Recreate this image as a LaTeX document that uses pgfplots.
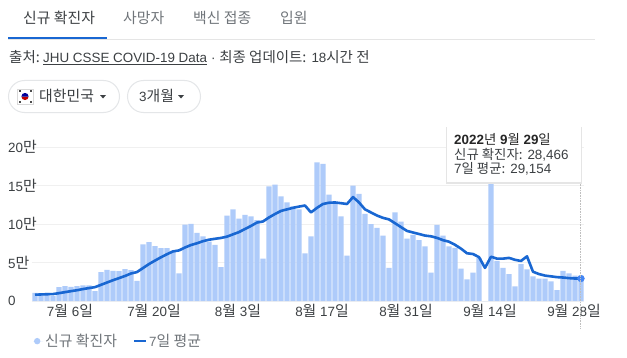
\documentclass[border=0pt]{standalone}
\usepackage{fontspec}
\usepackage{pgfplots}
\pgfplotsset{compat=1.18}
\setmainfont{Liberation Sans}
\newfontfamily\kr[Scale=1.11]{Noto Sans CJK KR}
\newfontfamily\krs[Scale=1.08]{Noto Sans CJK KR}
\newfontfamily\krt[Scale=1.0]{Noto Sans CJK KR}
\definecolor{barc}{HTML}{AECBFA}
\definecolor{linec}{HTML}{1967D2}
\definecolor{dotc}{HTML}{4285F4}
\definecolor{txt}{HTML}{3C4043}
\definecolor{gr}{HTML}{70757A}
\definecolor{chip}{HTML}{E4E6E8}
\newcommand{\fs}{\fontsize{13.4}{15}\selectfont}
\begin{document}
\begin{tikzpicture}
\fill[white] (0,0) rectangle (627pt,357pt);
\begin{axis}[
  at={(32pt,56pt)}, anchor=south west,
  scale only axis, width=552pt, height=154pt,
  xmin=-0.5, xmax=91.5, ymin=0, ymax=200,
  clip=false,
  axis line style={draw=none},
  major tick length=0pt,
  ymajorgrids, grid style={color=black!6, line width=0.7pt},
  ytick={0,50,100,150,200},
  yticklabels={0,5{\kr 만},10{\kr 만},15{\kr 만},20{\kr 만}},
  every y tick label/.append style={anchor=west, xshift=-24pt, font=\fs, text=txt, inner sep=0pt},
  xtick={5.83,19.83,33.83,47.83,61.83,75.83,89.83},
  xticklabels={7{\kr 월} 6{\kr 일},7{\kr 월} 20{\kr 일},8{\kr 월} 3{\kr 일},8{\kr 월} 17{\kr 일},8{\kr 월} 31{\kr 일},9{\kr 월} 14{\kr 일},9{\kr 월} 28{\kr 일}},
  every x tick label/.append style={font=\fs, text=txt, inner sep=0pt, yshift=-3pt},
  legend style={at={(1pt,-31pt)}, anchor=north west, draw=none, fill=none, font=\fs, text=gr, legend columns=2, /tikz/every even column/.append style={column sep=14pt}, inner sep=0pt},
]
\addplot[ybar, bar width=5.3pt, draw=none, fill=barc, legend image code/.code={\path (0,0) -- (10pt,0); \fill[barc] (4pt,0) circle (3.2pt);}] coordinates {
(0,10.7)(1,10.1)(2,10.4)(3,6.3)(4,18.1)(5,19.4)(6,18.5)(7,19.3)(8,20.3)(9,20.4)
(10,12.7)(11,37.4)(12,40.3)(13,39.2)(14,38.9)(15,41.3)(16,40.0)(17,26.3)(18,73.6)(19,76.4)
(20,71.2)(21,68.6)(22,68.6)(23,65.4)(24,35.9)(25,99.3)(26,100.3)(27,88.4)(28,84)(29,77)
(30,73)(31,44)(32,111)(33,119)(34,107)(35,112)(36,110)(37,105)(38,55)(39,149)
(40,151)(41,136)(42,128)(43,123)(44,119)(45,62)(46,84)(47,180)(48,178)(49,138)
(50,128)(51,110)(52,59)(53,150)(54,139)(55,113)(56,100)(57,95)(58,85)(59,43)
(60,115)(61,103)(62,81)(63,86)(64,79)(65,71)(66,37)(67,99)(68,85)(69,71)
(70,69)(71,42)(72,28)(73,37)(74,56)(75,0)(76,170)(77,52)(78,43)(79,35)
(80,19)(81,48)(82,41)(83,32)(84,29)(85,29)(86,25.5)(87,14)(88,39)(89,36)
(90,33)(91,30)};
\addlegendentry{\kr 신규 확진자}
\addplot[linec, line width=2.6pt, line join=round, legend image code/.code={\draw[linec, line width=2.2pt] (0,0) -- (12pt,0);}] coordinates {
(0,8.2)(1,8.5)(2,8.8)(3,9.0)(4,10.2)(5,11.5)(6,12.8)(7,14)(8,15.5)(9,16.8)
(10,18)(11,21)(12,24)(13,27)(14,29.7)(15,32.5)(16,35.7)(17,37.6)(18,42.8)(19,48)
(20,52.5)(21,56.8)(22,60.8)(23,64.4)(24,65.7)(25,69.5)(26,72.7)(27,75)(28,77.7)(29,79.6)
(30,80.8)(31,81.9)(32,83.6)(33,86.6)(34,89.5)(35,93.5)(36,97.5)(37,101.9)(38,103.3)(39,108.5)
(40,113)(41,117)(42,119)(43,121)(44,122.6)(45,124)(46,115)(47,121)(48,126)(49,127.6)
(50,128)(51,127)(52,126)(53,135)(54,128)(55,119)(56,115)(57,111)(58,108)(59,106)
(60,101)(61,96)(62,91)(63,89)(64,87)(65,85)(66,84)(67,82)(68,79)(69,77)
(70,73)(71,68)(72,62)(73,61)(74,57)(75,43)(76,57.5)(77,55)(78,55)(79,56)
(80,53.5)(81,52)(82,58)(83,38)(84,35)(85,33)(86,32)(87,31)(88,30.5)(89,29.7)
(90,29.2)(91,29.2)};
\addlegendentry{{7\kr 일 평균}}
\addplot[forget plot, only marks, color=dotc, mark=*, mark size=3.4pt, mark options={fill=dotc, draw=dotc}] coordinates {(91,29.2)};
\end{axis}
\begin{scope}[x=1pt,y=-1pt,yshift=357pt]
\draw[black!25, densely dotted, line width=0.6pt] (580,182) -- (580,328);
% tabs
\draw[black!10, line width=0.8pt] (8,39) -- (595,39);
\fill[linec] (8,37) rectangle (107,39.5);
\tikzset{t/.style={inner sep=0pt, anchor=base west, font=\fs},
  tt/.style={t, text height=9.5pt, text depth=2pt}}
\node[t,text=txt] at (23,23.5) {\kr 신규 확진자};
\node[t,text=gr] at (123,23.5) {\kr 사망자};
\node[t,text=gr] at (193,23.5) {\kr 백신 접종};
\node[t,text=gr] at (280,23.5) {\kr 입원};
% source
\node[t,text=txt] at (9,62.5) {\krs 출처:};
\node[t,text=txt] at (43,62.5) {JHU CSSE COVID-19 Data};
\draw[txt, line width=0.6pt] (43,64) -- (207,64);
\node[t,text=txt] at (211,62.5) {· {\krs 최종 업데이트:} 18{\krs 시간 전}};
% chips
\draw[chip, line width=1pt, rounded corners=16pt] (8.5,80.5) rectangle (119.5,112.5);
\draw[chip, line width=1pt, rounded corners=16pt] (127.5,80.5) rectangle (200.5,112.5);
\fill[white] (17,89) rectangle (33,104);
\draw[black!15, line width=0.4pt] (17,89) rectangle (33,104);
\fill[red!75!black] (25,96.5) ++(-3.6,0) arc[start angle=180, end angle=360, x radius=3.6, y radius=-3.6];
\fill[blue!60!black] (25,96.5) ++(-3.6,0) arc[start angle=180, end angle=360, x radius=3.6, y radius=3.6];
\foreach \a/\b in {19.5/91.5,30.5/91.5,19.5/101.5,30.5/101.5}{\fill[black!70] (\a-1,\b-1) rectangle (\a+1,\b+1);}
\node[t,text=txt] at (39,102) {\kr 대한민국};
\fill[txt] (100,95) -- (106,95) -- (103,98.5) -- cycle;
\node[t,text=txt] at (139,102) {3{\kr 개월}};
\fill[txt] (178,95) -- (184,95) -- (181,98.5) -- cycle;
% tooltip
\fill[black!10] (446,127) rectangle (582,183.5);
\fill[white] (447,127) rectangle (581,182);
\node[tt,text=black!85] at (454,144) {\bfseries 2022{\mdseries\krt 년} 9{\mdseries\krt 월} 29{\mdseries\krt 일}};
\node[tt,text=txt] at (454,159) {{\krt 신규 확진자:} 28,466};
\node[tt,text=txt] at (454,173) {7{\krt 일 평균:} 29,154};
\end{scope}
\end{tikzpicture}
\end{document}
